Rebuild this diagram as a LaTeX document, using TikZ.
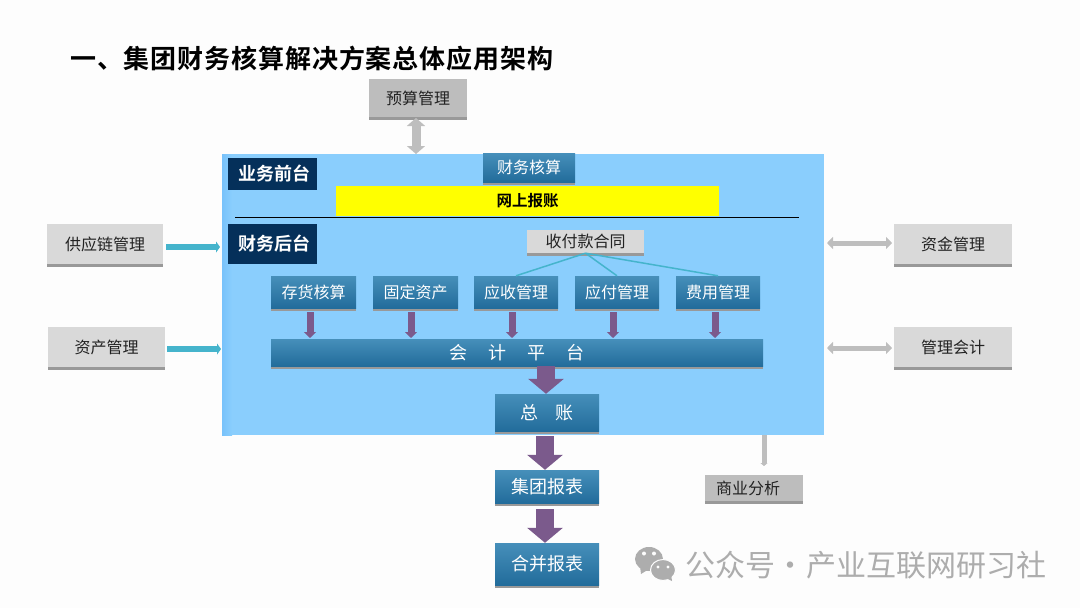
\documentclass[tikz,border=0pt]{standalone}
\usepackage{fontspec}
\setmainfont{Noto Sans CJK SC}[BoldFont={Noto Sans CJK SC Bold}]
\usetikzlibrary{arrows.meta,shadows}
\definecolor{pagebg}{HTML}{FDFDFD}
\definecolor{panelblue}{HTML}{8ACEFD}
\definecolor{paneledge}{HTML}{78C2FB}
\definecolor{navy}{HTML}{05305A}
\definecolor{bluetop}{HTML}{468FBA}
\definecolor{bluebot}{HTML}{226C9B}
\definecolor{graybox}{HTML}{BDBDBD}
\definecolor{lightbox}{HTML}{D9D9D9}
\definecolor{tealc}{HTML}{45B4CC}
\definecolor{plum}{HTML}{7B5A8C}
\definecolor{grayarrow}{HTML}{BEBEBE}
\definecolor{wmgray}{HTML}{ADADAD}
\definecolor{inkk}{HTML}{222222}
\definecolor{yel}{HTML}{FFFF00}
\tikzset{
  base/.style={inner sep=0pt,align=center,text=inkk},
  shad/.style={general shadow={shadow xshift=0pt,shadow yshift=-3pt,fill=black!40}},
  graybx/.style={base,shad,fill=graybox,font=\fontsize{16}{18}\selectfont},
  lightbx/.style={base,shad,fill=lightbox,font=\fontsize{16}{18}\selectfont},
  bluebx/.style={base,shad,top color=bluetop,bottom color=bluebot,text=white,font=\fontsize{16}{18}\selectfont},
  bluebig/.style={bluebx,font=\fontsize{18}{20}\selectfont},
  navybx/.style={base,fill=navy,text=white,font=\fontsize{18}{20}\selectfont\bfseries},
  smallarrow/.style={draw=plum,line width=7pt,-{Triangle[length=6pt,width=12pt]}},
  bigarrow/.style={draw=plum,line width=18pt,-{Triangle[length=15pt,width=35pt]}},
  tealarrow/.style={draw=tealc,line width=6pt,-{Triangle[length=4pt,width=11pt]}},
  graydouble/.style={draw=grayarrow,line width=5pt,{Triangle[length=6pt,width=12pt]}-{Triangle[length=6pt,width=12pt]}},
  tree/.style={draw=tealc,line width=1.5pt},
}
\begin{document}
\begin{tikzpicture}[x=1pt,y=-1pt]
\fill[pagebg] (0,0) rectangle (1080,608);
\useasboundingbox (0,0) rectangle (1080,608);

\node[anchor=west,inner sep=0pt,text=black,font=\fontsize{26}{28}\selectfont\bfseries\addfontfeatures{LetterSpace=3.4}] (title) at (70,59) {一、集团财务核算解决方案总体应用架构};

\node[inner sep=0pt,fill=panelblue,minimum width=602pt,minimum height=281pt] (panel) at (523,294.5) {};
\shade[left color=paneledge,right color=panelblue] (222,154) rectangle (232,435);

% side and top boxes
\node[graybx,minimum width=98pt,minimum height=38pt] (budget) at (418,98) {预算管理};
\node[lightbx,minimum width=116pt,minimum height=40pt] (supply) at (105,244) {供应链管理};
\node[lightbx,minimum width=117pt,minimum height=40pt] (asset) at (106.5,347) {资产管理};
\node[lightbx,minimum width=118pt,minimum height=40pt] (fund) at (953,244) {资金管理};
\node[lightbx,minimum width=118pt,minimum height=40pt] (mgmt) at (953,347) {管理会计};
\node[graybx,minimum width=98pt,minimum height=26pt,text width=76pt,align=left,inner xsep=11pt] (bi) at (754,488) {商业分析};

% front office
\node[navybx,minimum width=89pt,minimum height=32pt] (front) at (272.5,174) {\hspace*{4pt}业务前台};
\node[bluebx,minimum width=92pt,minimum height=29pt] (acct) at (529,167.5) {\raisebox{1.5pt}{财务核算}};
\node[base,fill=yel,text=black,minimum width=383pt,minimum height=30pt,font=\fontsize{15.5}{17}\selectfont\bfseries] (online) at (527.5,201) {网上报账};
\coordinate (ruleL) at (235,217.5);
\coordinate (ruleR) at (799,217.5);
\draw[black,line width=1.4pt] (ruleL) -- (ruleR);

% back office
\node[navybx,minimum width=89pt,minimum height=40pt] (back) at (272.5,244) {\hspace*{4pt}财务后台};
\node[lightbx,minimum width=117pt,minimum height=23pt] (contract) at (585.5,241.5) {收付款合同};
\node[bluebx,minimum width=85pt,minimum height=32pt] (m1) at (313.5,292) {存货核算};
\node[bluebx,minimum width=85pt,minimum height=32pt] (m2) at (415.5,292) {\raisebox{1pt}{固定资产}};
\node[bluebx,minimum width=84pt,minimum height=32pt] (m3) at (516,292) {\raisebox{1pt}{应收管理}};
\node[bluebx,minimum width=84pt,minimum height=32pt] (m4) at (617,292) {\raisebox{1pt}{应付管理}};
\node[bluebx,minimum width=84pt,minimum height=32pt] (m5) at (718,292) {\raisebox{1pt}{费用管理}};
\node[bluebig,minimum width=492pt,minimum height=27pt] (platform) at (517,352.5) {\raisebox{1pt}{会\hspace{1.17em}计\hspace{1.17em}平\hspace{1.17em}台}};
\node[bluebig,minimum width=104pt,minimum height=37pt] (ledger) at (547,412.5) {\raisebox{2pt}{总\hspace{0.95em}账}};
\node[bluebig,minimum width=104pt,minimum height=33pt] (group) at (547,486.5) {\raisebox{2pt}{集团报表}};
\node[bluebig,minimum width=104pt,minimum height=42pt] (merge) at (547,564) {\raisebox{2pt}{合并报表}};

% contract tree
\foreach \m in {m3,m4,m5} \draw[tree] (contract.south) -- (\m.north);

% small arrows to the accounting platform
\foreach \m/\x in {m1/310,m2/411,m3/512,m4/613,m5/715}
  \draw[smallarrow] (\x,312) -- (\x,338);

% big arrows
\coordinate (a1) at (546,0);
\coordinate (a2) at (545,436);
\coordinate (a3) at (545,509);
\draw[bigarrow] (platform.south -| a1) -- (ledger.north -| a1);
\draw[bigarrow] (a2) -- (group.north -| a2);
\draw[bigarrow] (a3) -- (merge.north -| a3);

% side connectors
\draw[tealarrow] (166,247) -- (220,247);
\draw[tealarrow] (167,349) -- (221,349);
\draw[graydouble] (827,243) -- (892,243);
\draw[graydouble] (827,348) -- (892,348);
\draw[draw=grayarrow,line width=9pt,{Triangle[length=8pt,width=18pt]}-{Triangle[length=8pt,width=18pt]}] (416,118) -- (416,154);
\draw[draw=grayarrow,line width=5pt,-{Triangle[length=3pt,width=7pt]}] (764,435) -- (764,466);

% watermark
\fill[wmgray] (649,559) ellipse [x radius=14,y radius=12];
\fill[wmgray] (640,566) -- (641,574) -- (649,569) -- cycle;
\filldraw[fill=wmgray,draw=pagebg,line width=1pt] (663,570) ellipse [x radius=12.5,y radius=10.5];
\fill[wmgray] (666,578) -- (672,581) -- (671,574) -- cycle;
\fill[pagebg] (644,553.5) circle (2) (654,553.5) circle (2) (658,567) circle (1.7) (668,567) circle (1.7);
\node[anchor=west,inner sep=0pt,text=wmgray,font=\fontsize{30}{32}\selectfont] (wm) at (685,565) {公众号\kern-6pt{} · \kern-6pt{}产业互联网研习社};
\end{tikzpicture}
\end{document}
